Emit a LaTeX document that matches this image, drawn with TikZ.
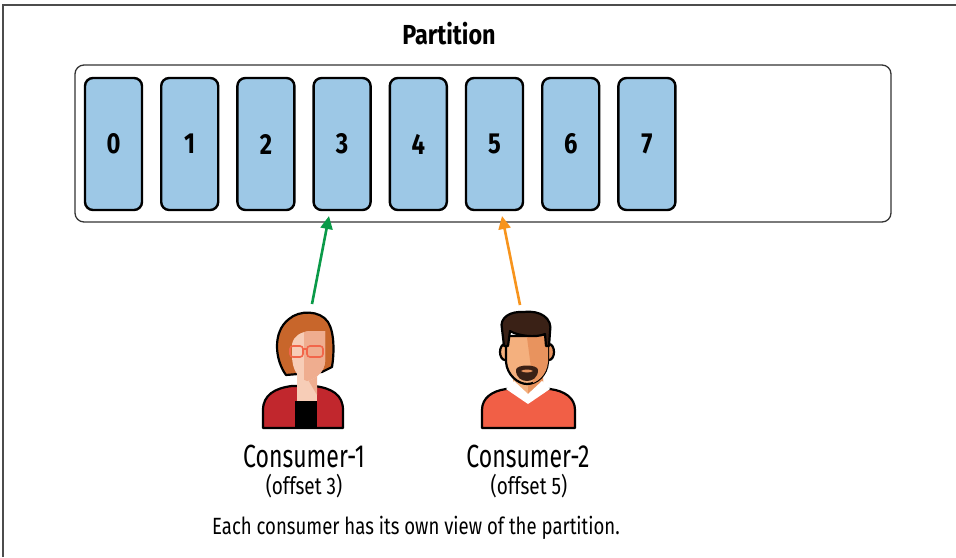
\documentclass[tikz,border=0pt]{standalone}
\usepackage{fontspec}
\setmainfont{Fira Sans}[FakeStretch=0.82]
\newfontfamily\titlefont{Fira Sans}[FakeStretch=0.85]
\newfontfamily\whofont{Fira Sans}[FakeStretch=0.72]
\newfontfamily\capfont{Fira Sans}[FakeStretch=0.79]
\usetikzlibrary{arrows.meta}
\definecolor{cellblue}{HTML}{9DC8E6}
\definecolor{okgreen}{HTML}{0A9A48}
\definecolor{okorange}{HTML}{F7941D}
\definecolor{hairA}{HTML}{C8662B}
\definecolor{skinAl}{HTML}{F7CDB7}
\definecolor{skinAd}{HTML}{EFAD8F}
\definecolor{jacket}{HTML}{C1272D}
\definecolor{glass}{HTML}{F2664A}
\definecolor{hairB}{HTML}{3A2116}
\definecolor{skinBl}{HTML}{F4B07E}
\definecolor{skinBd}{HTML}{E8935E}
\definecolor{shirtB}{HTML}{F15F46}
\tikzset{
  frame/.style={draw=black!70, line width=1.2pt},
  partbox/.style={draw=black!80, line width=1.3pt, rounded corners=9pt},
  cell/.style={draw=black, line width=2.4pt, fill=cellblue, rounded corners=8pt,
    minimum width=57pt, minimum height=132pt, inner sep=0pt,
    font=\fontsize{29}{29}\selectfont\bfseries},
  title/.style={font=\titlefont\fontsize{27.5}{27.5}\selectfont\bfseries},
  who/.style={font=\whofont\fontsize{32}{32}\selectfont},
  offs/.style={font=\capfont\fontsize{24}{24}\selectfont},
  caption/.style={font=\capfont\fontsize{23.5}{23.5}\selectfont},
  pointer/.style={line width=2.6pt, -{Triangle[length=13pt,width=12pt]}},
  outline/.style={draw=black, line width=2.2pt, line join=round},
}
\begin{document}
\begin{tikzpicture}[x=1pt,y=-1pt]
\useasboundingbox (0,0) rectangle (956,557);
% frame edges
\draw[frame] (3,557) -- (3,5) -- (956,5);

% partition with its records
\node[title] (title) at (449,34) {Partition};
\draw[partbox] (75,65) rectangle (891,222);
\foreach \i in {0,...,7} {
  \node[cell] (c\i) at ({113.5+76.2*\i},144) {\i};
}

% ---- Consumer-1 ----
\begin{scope}
  % jacket
  \path[outline, fill=jacket] (263,428) -- (263,410)
     .. controls (263,395) and (275,388) .. (292,386) -- (314,386)
     .. controls (332,388) and (343,395) .. (343,410) -- (343,428) -- cycle;
  % shirt
  \fill[black] (295,401) rectangle (317,428);
  % hair
  \path[outline, fill=hairA] (286,375) .. controls (275,360) and (272,332) .. (289,319)
     .. controls (299,310) and (320,310) .. (328,322)
     .. controls (335,333) and (334,355) .. (332,367) -- (322,372) -- cycle;
  % neck
  \fill[skinAl] (297,370) rectangle (317,401);
  \fill[skinAd] (307,378) -- (317,372) -- (317,395) -- cycle;
  % face
  \begin{scope}
    \clip (292,344) .. controls (294,336) and (300,332) .. (310,331) -- (325,331)
       -- (325,362) .. controls (324,372) and (316,379) .. (307,381)
       .. controls (298,378) and (292,370) .. (292,355) -- cycle;
    \fill[skinAl] (285,325) rectangle (330,385);
    \fill[skinAd] (304,325) rectangle (330,385);
  \end{scope}
  % glasses
  \draw[glass, line width=1.6pt, rounded corners=3pt]
     (290,346) rectangle (303,357) (307,346) rectangle (323,357);
  \draw[glass, line width=1.6pt] (303,349) -- (307,349);
\end{scope}

% ---- Consumer-2 ----
\begin{scope}
  % sweater
  \path[outline, fill=shirtB] (482,428) -- (482,410)
     .. controls (482,398) and (492,391) .. (506,389) -- (550,389)
     .. controls (565,391) and (575,398) .. (575,410) -- (575,428) -- cycle;
  % neck
  \fill[skinBl] (513,370) -- (543,370) -- (543,384) -- (528,396) -- (513,384) -- cycle;
  \fill[skinBd] (528,380) -- (543,372) -- (543,384) -- (528,396) -- cycle;
  % collar
  \fill[white] (506,389) -- (514,381) -- (528,394) -- (542,381) -- (550,389)
     -- (528,404) -- cycle;
  % ears
  \path[outline, fill=skinBl] (505,352) ellipse [x radius=5, y radius=8];
  \path[outline, fill=skinBd] (549,352) ellipse [x radius=5, y radius=8];
  % face
  \path[outline, fill=skinBl] (506,336) -- (506,362)
     .. controls (507,375) and (518,384) .. (527,384)
     .. controls (537,384) and (547,375) .. (548,362) -- (548,336) -- cycle;
  \begin{scope}
    \clip (506,336) -- (506,362) .. controls (507,375) and (518,384) .. (527,384)
       .. controls (537,384) and (547,375) .. (548,362) -- (548,336) -- cycle;
    \fill[skinBd] (526,330) -- (550,330) -- (550,390) -- (534,390) -- cycle;
  \end{scope}
  % goatee
  \fill[hairB] (516,370) .. controls (516,364) and (538,364) .. (538,370)
     .. controls (538,378) and (532,381) .. (527,381)
     .. controls (522,381) and (516,378) .. (516,370) -- cycle;
  \fill[skinBd] (521,371) .. controls (524,369) and (530,369) .. (533,371)
     .. controls (530,373) and (524,373) .. (521,371) -- cycle;
  % hair
  \path[outline, fill=hairB] (504,346) -- (502,329)
     .. controls (499,317) and (511,311) .. (524,312)
     .. controls (540,310) and (553,318) .. (550,332) -- (549,346) -- (546,346)
     -- (545,334) .. controls (536,338) and (518,336) .. (510,331) -- (508,346) -- cycle;
\end{scope}

% offsets held by each consumer
\coordinate (from1) at (312,304);
\coordinate (to1) at (329,216);
\coordinate (from2) at (520,305);
\coordinate (to2) at (502,216);
\draw[pointer, okgreen] (from1) -- (to1);
\draw[pointer, okorange] (from2) -- (to2);

% labels
\node[who] (n1) at (304,456) {Consumer-1};
\node[offs] (o1) at (304,486) {(offset 3)};
\node[who] (n2) at (528,456) {Consumer-2};
\node[offs] (o2) at (529,486) {(offset 5)};
\node[caption] (cap) at (416,528) {Each consumer has its own view of the partition.};
\end{tikzpicture}
\end{document}
